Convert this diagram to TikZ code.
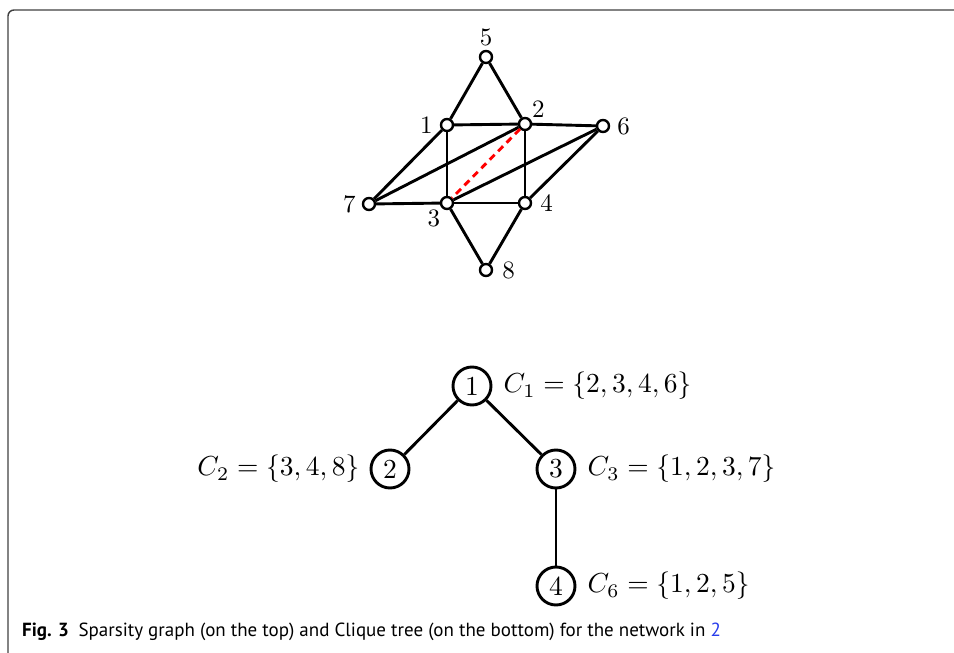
\documentclass[tikz,border=0pt]{standalone}
\usepackage{fontspec}
\usepackage{graphicx}
\newfontfamily\capfont{PT Sans}
\usetikzlibrary{positioning}
\definecolor{linkblue}{RGB}{40,60,235}
\newcommand{\vlbl}[1]{\scalebox{2.5}{#1}}
\newcommand{\tlbl}[1]{\scalebox{2.75}{#1}}

\begin{document}
\begin{tikzpicture}[x=1pt,y=-1pt,
  every label/.style={inner sep=1pt},
  vtx/.style={circle,draw,fill=white,line width=2.4pt,minimum size=12pt,inner sep=0pt},
  edge/.style={line width=2.9pt},
  chord/.style={line width=2.9pt,red,dash pattern=on 7pt off 5pt},
  clq/.style={circle,draw,line width=2.9pt,minimum size=38pt,inner sep=0pt},
  setlbl/.style={inner sep=0pt}]
\useasboundingbox (0,0) rectangle (954,653);
% frame
\draw[black!75,line width=1.4pt,rounded corners=6pt] (8,653) -- (8,10) -- (954,10);

% sparsity graph
\node[vtx,label={[label distance=3pt]above:\vlbl{5}}] (v5) at (486,57) {};
\node[vtx,label={[label distance=6pt]left:\vlbl{1}}] (v1) at (447,125) {};
\node[vtx,label={[label distance=1pt]45:\vlbl{2}}] (v2) at (525,124) {};
\node[vtx,label={[label distance=6pt]right:\vlbl{6}}] (v6) at (603,126) {};
\node[vtx,label={[label distance=5pt]left:\vlbl{7}}] (v7) at (369,204) {};
\node[vtx,label={[label distance=1pt]225:\vlbl{3}}] (v3) at (447,203) {};
\node[vtx,label={[label distance=7pt]right:\vlbl{4}}] (v4) at (525,203) {};
\node[vtx,label={[label distance=8pt]right:\vlbl{8}}] (v8) at (486,270) {};
\foreach \a/\b in {5/1,5/2,1/2,2/6,1/3,2/4,1/7,7/2,7/3,3/4,3/6,4/6,3/8,4/8}
  \draw[edge] (v\a) -- (v\b);
\draw[chord] (v2) -- (v3);

% clique tree
\node[clq] (t1) at (472,386) {\tlbl{1}};
\node[clq] (t2) at (390,469) {\tlbl{2}};
\node[clq] (t3) at (556,469) {\tlbl{3}};
\node[clq] (t4) at (556,586) {\tlbl{4}};
\draw[edge] (t1) -- (t2);
\draw[edge] (t1) -- (t3);
\draw[edge] (t3) -- (t4);
\node[setlbl,right=11pt of t1] (c1) {\tlbl{$C_1=\{2,3,4,6\}$}};
\node[setlbl,left=10pt of t2] (c2) {\tlbl{$C_2=\{3,4,8\}$}};
\node[setlbl,right=11pt of t3] (c3) {\tlbl{$C_3=\{1,2,3,7\}$}};
\node[setlbl,right=11pt of t4] (c6) {\tlbl{$C_6=\{1,2,5\}$}};

% caption
\node[anchor=west,inner sep=0pt,font=\capfont\fontsize{19}{23}\selectfont] (cap) at (22,632)
  {\textbf{Fig. 3}\enspace Sparsity graph (on the top) and Clique tree (on the bottom) for the network in \textcolor{linkblue}{2}};
\end{tikzpicture}
\end{document}
